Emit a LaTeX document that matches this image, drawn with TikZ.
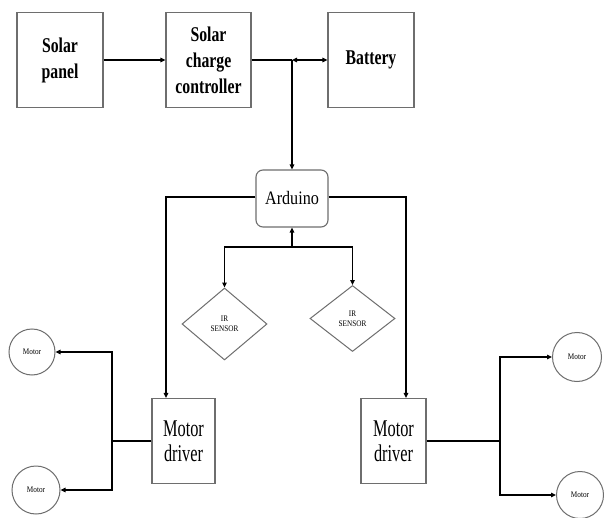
\documentclass[tikz,border=0pt]{standalone}
\usepackage{fontspec}
\setmainfont{Liberation Serif}
\newfontfamily\topfont{Liberation Serif}[FakeStretch=0.75]
\newfontfamily\ardfont{Liberation Serif}[FakeStretch=0.85]
\newfontfamily\mdfont{Liberation Serif}[FakeStretch=0.68]
\newfontfamily\smallfont{Liberation Serif}[FakeStretch=0.85]
\usetikzlibrary{shapes.geometric,arrows.meta}
\definecolor{boxgray}{RGB}{110,110,110}
\tikzset{
  blk/.style={draw=boxgray,line width=1.1pt,minimum width=86pt,minimum height=95pt,inner sep=0pt,align=center,
    font=\topfont\bfseries\fontsize{21}{26}\selectfont},
  ardbox/.style={draw=boxgray,line width=1.1pt,rounded corners=7pt,minimum width=72pt,minimum height=57pt,inner sep=0pt,
    font=\ardfont\fontsize{19}{23}\selectfont},
  irbox/.style={draw=boxgray,line width=1pt,diamond,minimum width=85pt,minimum height=70pt,inner sep=0pt,align=center,
    font=\smallfont\fontsize{8.5}{10}\selectfont},
  mdbox/.style={draw=boxgray,line width=1.1pt,minimum width=64pt,minimum height=85pt,inner sep=0pt,align=center,
    font=\mdfont\fontsize{24}{25}\selectfont},
  motorc/.style={draw=boxgray,line width=1pt,circle,inner sep=0pt,font=\smallfont\fontsize{8.5}{10}\selectfont},
  conn/.style={line width=1.7pt,black},
  arr/.style={conn,-{Triangle[length=5pt,width=4.5pt]}},
  darr/.style={conn,{Triangle[length=5pt,width=4.5pt]}-{Triangle[length=5pt,width=4.5pt]}}
}
\begin{document}
\begin{tikzpicture}[x=1pt,y=-1pt]
\fill[white] (0,0) rectangle (604,518);
\useasboundingbox (0,0) rectangle (604,518);
% top row
\node[blk] (sp) at (60,60) {Solar\\panel};
\node[blk,minimum width=85pt] (scc) at (208.5,60) {Solar\\charge\\controller};
\node[blk] (bat) at (371,60) {Battery};
% arduino
\node[ardbox] (ard) at (292,198.5) {Arduino};
% IR sensors
\node[irbox,minimum height=72pt] (ir1) at (224.5,324) {IR\\SENSOR};
\node[irbox,minimum height=66pt] (ir2) at (352.5,318.5) {IR\\SENSOR};
% motor drivers
\node[mdbox,minimum width=63pt] (md1) at (183.5,441) {Motor\\driver};
\node[mdbox,minimum width=65pt] (md2) at (393.5,441) {Motor\\driver};
% motors
\node[motorc,minimum size=46pt] (m1) at (32,352) {Motor};
\node[motorc,minimum size=48pt] (m2) at (36,490) {Motor};
\node[motorc,minimum size=49pt] (m3) at (577,357) {Motor};
\node[motorc,minimum size=47pt] (m4) at (580,495) {Motor};
% junctions
\coordinate (J) at (292,60);
\coordinate (cL) at (166,197);
\coordinate (cR) at (406,197);
\coordinate (K) at (292,247);
\coordinate (L) at (112,441);
\coordinate (R) at (500,441);
% connectors
\draw[arr] (sp) -- (scc);
\draw[conn] (scc.east) -- (J);
\draw[darr] (J) -- (bat.west);
\draw[arr] (J) -- (ard.north);
\draw[arr] (ard.west |- cL) -- (cL) -- (cL |- md1.north);
\draw[arr] (ard.east |- cR) -- (cR) -- (cR |- md2.north);
\draw[arr] (K) -- (ard.south);
\draw[arr] (K) -| (ir1.north);
\draw[arr] (K) -| (ir2.north);
\draw[conn] (md1.west) -- (L);
\draw[arr] (L) |- (m1.east);
\draw[arr] (L) |- (m2.east);
\draw[conn] (md2.east) -- (R);
\draw[arr] (R) |- (m3.west);
\draw[arr] (R) |- (m4.west);
\end{tikzpicture}
\end{document}
